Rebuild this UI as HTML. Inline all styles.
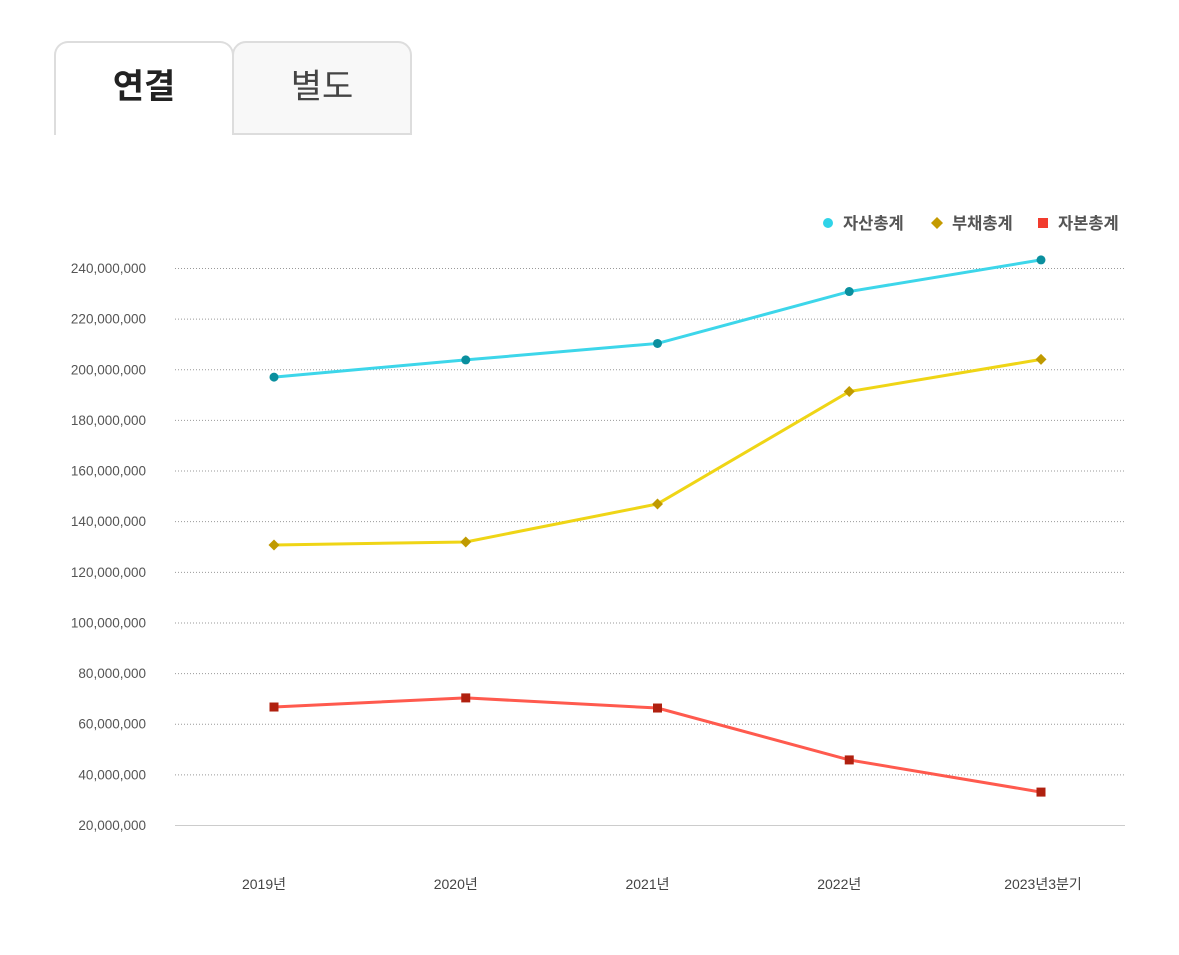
<!DOCTYPE html>
<html><head><meta charset="utf-8">
<style>
html,body{margin:0;padding:0;background:#fff;width:1179px;height:955px;overflow:hidden;font-family:"Liberation Sans","Noto Sans CJK KR",sans-serif}
.tab{position:absolute;top:41px;height:94px;border:2px solid #ddd;border-bottom:none;border-radius:14px 14px 0 0;box-sizing:border-box;text-align:center;line-height:88px;font-size:34px;color:#444}
#t1{left:54px;width:180px;background:#fff;font-weight:bold;color:#222}
#t2{left:232px;width:180px;background:#f8f8f8;border-bottom:2px solid #ddd}
svg{position:absolute;left:0;top:0}
</style></head><body>
<div class="tab" id="t1">연결</div>
<div class="tab" id="t2">별도</div>
<svg id="chart" width="1179" height="955"></svg>
<script>
const categories=["2019년","2020년","2021년","2022년","2023년3분기"];
const assets=[196.9,203.7,210.2,230.7,243.2];
const liabilities=[130.6,131.8,146.8,191.2,203.9];
const equity=[66.6,70.2,66.2,45.7,33.0];
const yTicks=[20,40,60,80,100,120,140,160,180,200,220,240];
const NS="http://www.w3.org/2000/svg";
const svg=document.getElementById('chart');
function y(v){return 825-(v-20)/220*557;}
function x(i){return 274+i*191.75;}
function mk(tag,a,txt){const e=document.createElementNS(NS,tag);for(const k in a)e.setAttribute(k,a[k]);if(txt!=null)e.textContent=txt;svg.appendChild(e);return e;}
yTicks.forEach(t=>{
  const l=mk('line',{x1:175,x2:1125,y1:y(t)+0.5,y2:y(t)+0.5,stroke:t===20?'#ccc':'#999','stroke-dasharray':t===20?'':'1,2','stroke-width':1});
  
  
  const tx=mk('text',{x:146,y:y(t)+5,'text-anchor':'end','font-size':13.5,fill:'#555'},t.toLocaleString('en-US')+',000,000');
  
  
});
categories.forEach((c,i)=>{
  const tx=mk('text',{x:x(i)-10+(i===4?12:0),y:889,'text-anchor':'middle','font-size':14,fill:'#444'},c);
  
  
});
function series(vals,color,mcolor,shape,name){
  const pts=vals.map((v,i)=>x(i)+','+y(v)).join(' ');
  const pl=mk('polyline',{points:pts,fill:'none',stroke:color,'stroke-width':3});
  
  
  vals.forEach((v,i)=>{
    let m;const cx=x(i),cy=y(v);
    if(shape==='c')m=mk('circle',{cx:cx,cy:cy,r:4.5,fill:mcolor});
    else if(shape==='d')m=mk('polygon',{points:`${cx},${cy-5.5} ${cx+5.5},${cy} ${cx},${cy+5.5} ${cx-5.5},${cy}`,fill:mcolor});
    else m=mk('rect',{x:cx-4.5,y:cy-4.5,width:9,height:9,fill:mcolor});
    
    
  });
}
series(assets,'#3dd6ea','#0a8f9e','c','assets');
series(liabilities,'#efd516','#c09a00','d','liabilities');
series(equity,'#ff5a4e','#b0200f','s','equity');
const lg=[['자산총계','#2fd3e8','c',828],['부채총계','#c49a00','d',937],['자본총계','#f23c2e','s',1043]];
lg.forEach(([t,c,s,lx])=>{
  let m;
  if(s==='c')m=mk('circle',{cx:lx,cy:223,r:5,fill:c});
  else if(s==='d')m=mk('polygon',{points:`${lx},${217} ${lx+6},223 ${lx},229 ${lx-6},223`,fill:c});
  else m=mk('rect',{x:lx-5,y:218,width:10,height:10,fill:c});
  
  
  const tx=mk('text',{x:lx+15,y:229,'font-size':16.5,'font-weight':'bold',fill:'#555'},t);
  
  
});
</script>
</body></html>
